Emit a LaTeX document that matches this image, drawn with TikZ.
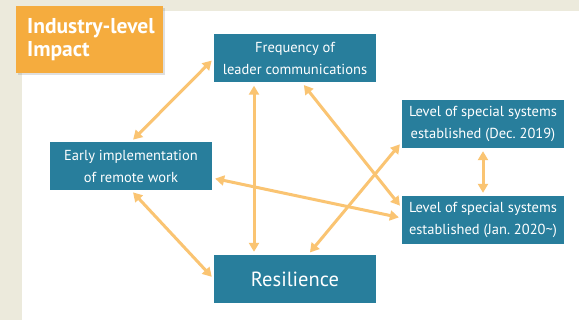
\documentclass[tikz,border=0pt]{standalone}
\usepackage{fontspec}
\setmainfont{PT Sans}
\usetikzlibrary{arrows.meta,shadows}

\definecolor{boxteal}{RGB}{40,126,156}
\definecolor{linkorange}{RGB}{250,196,114}
\definecolor{titleorange}{RGB}{245,172,62}
\definecolor{pagebeige}{RGB}{236,234,220}

\begin{document}
\begin{tikzpicture}[x=1pt,y=-1pt,
  factor/.style={fill=boxteal, text=white, minimum width=162pt, minimum height=48pt,
    inner sep=0pt, align=center, font=\fontsize{14.5}{22}\selectfont},
  link/.style={line width=3pt, linkorange,
    {Triangle[length=9pt,width=10pt]}-{Triangle[length=9pt,width=10pt]},
    shorten >=3pt, shorten <=3pt}]

  % page and panel
  \fill[pagebeige] (0,0) rectangle (579,320);
  \fill[white] (22,11) rectangle (579,320);
  \useasboundingbox (0,0) rectangle (579,320);

  \node[fill=titleorange, text=white, anchor=north west, text width=125pt, inner xsep=11pt,
    minimum height=67pt, align=left, font=\bfseries\fontsize{21.5}{23}\selectfont,
    drop shadow={opacity=0.25, shadow xshift=2pt, shadow yshift=-2pt}]
    (title) at (16,6) {\mbox{Industry-level}\\Impact};

  \node[factor] (freq)  at (295,58.5) {Frequency of\\leader communications};
  \node[factor] (dec)   at (483,124)  {Level of special systems\\established (Dec.~2019)};
  \node[factor] (early) at (131,166)  {Early implementation\\of remote work};
  \node[factor] (jan)   at (483,220)  {Level of special systems\\established (Jan.~2020\textasciitilde)};
  \node[factor, font=\fontsize{20.5}{22}\selectfont] (res) at (295,279) {Resilience};

  \draw[link] (early.north) -- (freq.west);
  \draw[link] ([xshift=-41pt]freq.south) -- ([xshift=-41pt]res.north);
  \draw[link] ([xshift=7pt]freq.south) -- ([yshift=12pt]jan.west);
  \draw[link] (dec.south) -- (jan.north);
  \draw[link] ([xshift=13pt]res.north) -- ([yshift=-18pt]dec.west);
  \draw[link] ([yshift=-12pt]early.east) -- ([yshift=2pt]jan.west);
  \draw[link] (early.south) -- (res.west);
\end{tikzpicture}
\end{document}
